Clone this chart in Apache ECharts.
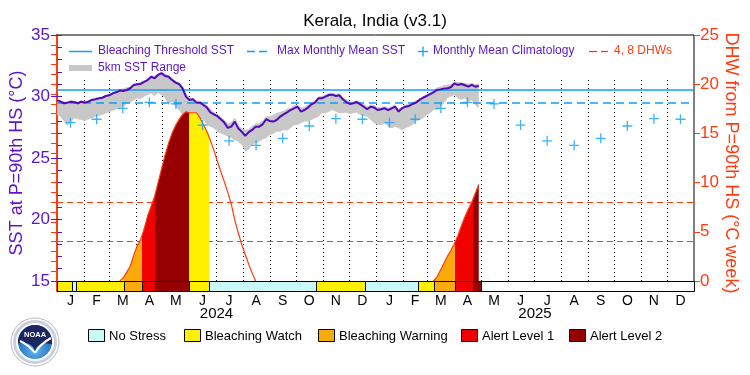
<!DOCTYPE html>
<html><head><meta charset="utf-8">
<script src="https://cdn.jsdelivr.net/npm/echarts@6/dist/echarts.min.js"></script>
<style>html,body{margin:0;padding:0;background:#fff}#c{width:750px;height:375px}</style>
</head><body><div id="c"></div>
<script>
// ---------------- data ----------------
const chartTitle = 'Kerala, India (v3.1)';
const monthLetters = ['J','F','M','A','M','J','J','A','S','O','N','D'];
const years = [2024, 2025];
const yearLabels = ['2024', '2025'];

// daily SST sampled every 4 days from 2024-01-01 (day 0)
const sstStepDays = 4;
const sst = [29.70,29.58,29.45,29.50,29.58,29.53,29.45,29.58,29.50,29.58,
29.72,29.77,29.85,29.90,30.04,30.10,30.26,30.34,30.48,30.45,
30.53,30.67,30.94,31.00,31.02,31.18,31.34,31.61,31.48,31.75,
31.89,31.67,31.61,31.34,31.13,31.02,30.67,29.99,29.72,29.77,
29.50,29.50,29.31,29.10,28.70,28.55,28.40,28.15,27.88,27.45,
27.55,27.96,27.41,27.14,26.80,27.10,27.28,27.55,27.55,27.74,
28.15,28.01,27.96,28.09,28.36,28.55,28.71,28.90,29.04,29.17,
28.77,28.90,29.10,29.36,29.50,29.85,29.85,29.99,30.12,30.15,
30.04,30.10,29.77,29.55,29.39,29.45,29.55,29.36,29.17,28.96,
29.17,29.10,28.90,28.96,29.04,28.90,29.04,29.17,28.77,29.04,
29.17,29.23,29.39,29.50,29.72,29.90,30.04,30.20,30.34,30.53,
30.58,30.64,30.67,30.75,31.07,30.94,31.02,30.91,30.80,30.94,
30.80,30.86];
const sstRangeLow = [28.50,28.36,27.96,27.60,27.96,28.23,28.15,28.09,28.00,28.15,
28.23,28.36,28.42,28.50,28.63,28.70,28.85,28.96,29.04,29.17,
29.39,29.50,29.72,29.85,29.77,29.99,30.12,30.26,30.04,30.26,
30.12,29.85,29.31,29.58,29.17,28.90,28.50,28.23,28.09,28.09,
27.96,28.23,28.09,27.68,27.55,27.41,27.14,27.01,26.87,26.74,
26.60,26.46,26.33,26.06,25.50,25.70,26.06,26.19,26.33,26.52,
26.60,26.87,26.95,27.14,27.14,27.28,27.22,27.41,27.68,27.68,
27.82,27.96,27.96,28.09,28.23,28.36,28.63,28.63,28.77,28.90,
28.77,28.63,28.63,28.70,28.58,28.63,28.70,28.50,28.42,28.36,
28.09,27.82,27.68,27.68,27.82,27.55,27.41,27.55,27.41,27.28,
27.41,27.55,27.68,27.96,28.09,28.23,28.50,28.63,28.90,28.90,
29.17,29.45,29.85,29.99,30.12,29.85,29.72,29.85,29.58,29.72,
29.31,29.04];
const sstRangeHigh = [29.80,29.70,29.60,29.60,29.70,29.65,29.60,29.70,29.65,29.70,
29.80,29.90,29.95,30.00,30.15,30.20,30.35,30.45,30.60,30.65,
30.75,30.80,31.00,31.10,31.20,31.30,31.45,31.70,31.70,31.90,
32.00,31.85,31.75,31.50,31.30,31.15,30.90,30.30,29.90,29.90,
29.65,29.65,29.50,29.30,29.00,28.75,28.60,28.35,28.10,27.80,
27.90,28.30,27.75,27.40,27.30,27.35,27.60,27.80,27.85,28.05,
28.40,28.40,28.50,28.65,28.75,28.85,29.00,29.10,29.30,29.35,
29.10,29.15,29.35,29.55,29.70,30.00,30.05,30.15,30.30,30.30,
30.20,30.25,29.95,29.75,29.60,29.60,29.70,29.55,29.40,29.20,
29.35,29.30,29.10,29.15,29.20,29.10,29.20,29.35,29.00,29.20,
29.35,29.40,29.55,29.70,29.85,30.00,30.15,30.30,30.50,30.75,
30.80,30.90,30.95,31.00,31.20,31.15,31.15,31.10,31.05,31.10,
31.00,31.05];

// monthly mean climatology (Jan..Dec), same each year
const climatology = [27.87,28.15,29.04,29.53,29.40,27.68,26.40,26.03,26.60,27.60,28.20,28.15];
const maxMonthlyMean = 29.53;
const bleachingThreshold = 30.53;

// degree heating weeks, every 4 days
const dhwStepDays = 4;
const dhw2024StartDay = 72;
const dhw2024 = [0,0.3,0.9,1.5,2.6,3.6,4.2,5.3,6.6,7.6,8.6,10.0,11.4,12.8,14.0,15.0,15.8,16.4,16.9,17.2,
17.1,17.1,17.1,16.6,15.9,15.2,14.3,13.3,12.2,11.1,10.1,9.0,7.8,6.2,4.9,3.7,2.7,1.7,0.8,0];
const dhw2025StartDay = 432;
const dhw2025 = [0,0.4,1.1,1.8,2.5,3.1,3.8,4.6,5.6,6.5,7.3,8.0,8.9,9.8];
const dhwLevels = [4, 8];

// stress status periods (day offsets from 2024-01-01); level 0..4
const statusStart = [0,17,22,77,97,112,152,174,297,353,414,433,457,477];
const statusEnd   = [17,22,77,97,112,152,174,297,353,414,433,457,477,486];
const statusLevel = [1,0,1,2,3,4,1,0,1,0,1,2,3,4];
const statusNames = ['No Stress','Bleaching Watch','Bleaching Warning','Alert Level 1','Alert Level 2'];

// ---------------- style ----------------
const FONT = 'Liberation Sans';
const PURPLE = '#5a14cc';
const SSTLINE = '#5208bb';
const BLUE = '#0aa0ff';
const GRAY = '#c8c8c8';
const DHWC = '#ff3c10';
const statusColors = ['#c8fafa','#fff000','#faaa0a','#f00000','#960000'];

// ---------------- calendar helpers ----------------
const DAY0 = Date.UTC(2024,0,1);
const dayOf = (y,m,d) => (Date.UTC(y,m,d) - DAY0) / 864e5;
const totalDays = dayOf(years[years.length-1] + 1, 0, 1);
const monthStarts = [];
years.forEach(y => { for (let m = 0; m < 12; m++) monthStarts.push(dayOf(y, m, 1)); });
const monthMids = monthStarts.map((s, i) => (s + (i + 1 < monthStarts.length ? monthStarts[i+1] : totalDays)) / 2);
const monthBoundaries = monthStarts.slice(1);
const yearMids = years.map(y => (dayOf(y,0,1) + dayOf(y+1,0,1)) / 2);

// axis geometry: status bar sits below 15 degC / 0 DHW
const leftMax = 35, leftBase = 15, rightMax = 25, rightBase = 0;
const plotTop = 35, plotBase = 281, plotBottom = 291;
const leftMin = leftBase - (leftMax - leftBase) * (plotBottom - plotBase) / (plotBase - plotTop);
const rightMin = rightBase - (rightMax - rightBase) * (plotBottom - plotBase) / (plotBase - plotTop);
const range = (a, b, s) => { const r = []; for (let v = a; v <= b + 1e-9; v += s) r.push(v); return r; };

// ---------------- series data ----------------
const sstData = sst.map((v, i) => [i * sstStepDays, v]);
const climData = monthMids.map((d, i) => [d, climatology[i % 12]]);
const dhwA = dhw2024.map((v, i) => [dhw2024StartDay + i * dhwStepDays, v]);
const dhwB = dhw2025.map((v, i) => [dhw2025StartDay + i * dhwStepDays, v]);
const statusData = [[0, totalDays, -1]].concat(statusStart.map((s, i) => [s, statusEnd[i], statusLevel[i]]));
const pieces = [];
statusLevel.forEach((lv, i) => { if (lv > 0) pieces.push({ gte: statusStart[i], lt: statusEnd[i], color: statusColors[lv] }); });

const plusPath = 'path://M4.35,0H5.65V4.35H10V5.65H5.65V10H4.35V5.65H0V4.35H4.35Z';

const chart = echarts.init(document.getElementById('c'));
const txt = (x, y, text, color, size) => ({ type: 'text', x, y, z: 100,
  style: { text, fill: color, fontSize: size, fontFamily: FONT, verticalAlign: 'middle', align: 'left' } });
const seg = (x1, y1, x2, y2, color, w) => ({ type: 'line', z: 100, shape: { x1, y1, x2, y2 }, style: { stroke: color, lineWidth: w } });

const graphics = [
  seg(69, 51.5, 92, 51.5, BLUE, 1.5), txt(98, 51, 'Bleaching Threshold SST', PURPLE, 12),
  seg(247, 51.5, 255, 51.5, BLUE, 1.5), seg(259, 51.5, 267, 51.5, BLUE, 1.5),
  txt(277, 51, 'Max Monthly Mean SST', PURPLE, 12),
  seg(418, 51.5, 428, 51.5, BLUE, 1.3), seg(423, 46.5, 423, 56.5, BLUE, 1.3),
  txt(433, 51, 'Monthly Mean Climatology', PURPLE, 12),
  seg(589, 51.5, 597, 51.5, DHWC, 1.3), seg(601, 51.5, 608, 51.5, DHWC, 1.3),
  txt(614, 51, '4, 8 DHWs', DHWC, 12),
  seg(69, 68, 92, 68, GRAY, 6), txt(98, 68, '5km SST Range', PURPLE, 12)
];
const boxX = [88, 184, 318, 461, 569];
statusNames.forEach((n, i) => {
  graphics.push({ type: 'rect', z: 100, shape: { x: boxX[i] + 0.5, y: 329.5, width: 16, height: 12 },
    style: { fill: statusColors[i], stroke: '#000', lineWidth: 1 } });
  graphics.push(txt(boxX[i] + 21, 336, n, '#000', 13));
});
// NOAA logo (polygons only)
const arcPts = [];
for (let a = -8; a <= 188; a += 6) { const r = a * Math.PI / 180; arcPts.push([17 * Math.cos(r), -17 * Math.sin(r)]); }
const shieldPts = arcPts.reverse().concat([[9, 1], [5, 2.5], [2, 5], [0, 9], [-2, 5], [-5, 2.5], [-9, 1]]);
graphics.push({ type: 'group', x: 35, y: 342, z: 100, children: [
  { type: 'circle', shape: { r: 24 }, style: { fill: '#fff', stroke: '#a8a8a8', lineWidth: 0.8 } },
  { type: 'circle', shape: { r: 20.5 }, style: { fill: 'none', stroke: '#c9cfe0', lineWidth: 3 } },
  { type: 'circle', shape: { r: 17 }, style: { fill: new echarts.graphic.RadialGradient(0.5, 0.75, 0.8,
      [{ offset: 0, color: '#5cb6f2' }, { offset: 1, color: '#0a4aa8' }]) } },
  { type: 'polygon', shape: { points: shieldPts }, style: { fill: '#1c2660' } },
  { type: 'bezierCurve', shape: { x1: -15, y1: -1, cpx1: -6, cpy1: 3, x2: 0, y2: 11 }, style: { fill: 'none', stroke: '#fff', lineWidth: 2 } },
  { type: 'bezierCurve', shape: { x1: 0, y1: 11, cpx1: 5, cpy1: 2, x2: 16, y2: -4 }, style: { fill: 'none', stroke: '#fff', lineWidth: 2 } },
  { type: 'text', x: 0, y: -7, style: { text: 'NOAA', fill: '#fff', fontSize: 7.5, fontWeight: 'bold', fontFamily: FONT, align: 'center', verticalAlign: 'middle' } }
] });

const monthLabelFor = v => { const i = monthMids.findIndex(m => Math.abs(m - v) < 0.01); return i < 0 ? '' : monthLetters[i % 12]; };
const yearLabelFor = v => { const i = yearMids.findIndex(m => Math.abs(m - v) < 0.01); return i < 0 ? '' : yearLabels[i]; };

const option = {
  animation: false,
  backgroundColor: '#fff',
  textStyle: { fontFamily: FONT },
  title: { text: chartTitle, left: 'center', top: 13, padding: 0,
    textStyle: { fontSize: 17, fontWeight: 'normal', color: '#000', fontFamily: FONT } },
  grid: { left: 57, right: 56, top: plotTop, bottom: 375 - plotBottom, containLabel: false, outerBoundsMode: 'none',
    show: true, borderColor: '#000', borderWidth: 1, backgroundColor: 'transparent' },
  xAxis: [
    { type: 'value', min: 0, max: totalDays, splitLine: { show: false },
      axisLine: { lineStyle: { color: '#000', width: 1 } }, axisTick: { show: false },
      axisLabel: { customValues: monthMids, formatter: monthLabelFor, color: '#000', fontSize: 14, margin: 3 } },
    { type: 'value', min: 0, max: totalDays, position: 'bottom', splitLine: { show: false },
      axisLine: { show: false }, axisTick: { show: false },
      axisLabel: { customValues: yearMids, formatter: yearLabelFor, color: '#000', fontSize: 15, margin: 15 } }
  ],
  yAxis: [
    { type: 'value', position: 'left', min: leftMin, max: leftMax, splitLine: { show: false },
      axisLine: { show: true, lineStyle: { color: PURPLE, width: 2 } },
      axisTick: { show: true, inside: true, length: 5, customValues: range(leftBase, leftMax, 1), lineStyle: { color: PURPLE } },
      axisLabel: { customValues: range(leftBase, leftMax, 5), color: PURPLE, fontSize: 17, margin: 7 },
      name: 'SST at P=90th HS (°C)', nameLocation: 'middle', nameGap: 31, nameRotate: 90, nameMoveOverlap: false,
      nameTextStyle: { color: PURPLE, fontSize: 18 } },
    { type: 'value', position: 'right', min: rightMin, max: rightMax, splitLine: { show: false },
      axisLine: { show: true, lineStyle: { color: DHWC, width: 2 } },
      axisTick: { show: true, inside: true, length: 6, customValues: range(rightBase, rightMax, 1), lineStyle: { color: DHWC } },
      axisLabel: { customValues: range(rightBase, rightMax, 5), color: DHWC, fontSize: 17, margin: 6 },
      name: 'DHW from P=90th HS (°C week)', nameLocation: 'middle', nameGap: 28, nameRotate: -90, nameMoveOverlap: false,
      nameTextStyle: { color: DHWC, fontSize: 18 } },
    { type: 'value', position: 'left', min: leftMin, max: leftMax, splitLine: { show: false },
      axisLine: { show: false }, axisLabel: { show: false },
      axisTick: { show: true, inside: false, length: 6, customValues: range(leftBase, leftMax, 5), lineStyle: { color: PURPLE } } },
    { type: 'value', position: 'right', min: rightMin, max: rightMax, splitLine: { show: false },
      axisLine: { show: false }, axisLabel: { show: false },
      axisTick: { show: true, inside: false, length: 6, customValues: range(rightBase, rightMax, 5), lineStyle: { color: DHWC } } }
  ],
  visualMap: { type: 'piecewise', show: false, dimension: 0, seriesIndex: [2, 3], pieces,
    outOfRange: { color: 'rgba(255,255,255,0)' } },
  series: [
    { // 0 month dotted lines
      type: 'custom', z: 1, silent: true, data: monthBoundaries, encode: { x: 0 },
      renderItem: (params, api) => {
        const d = api.value(0);
        const p1 = api.coord([d, leftBase]), p2 = api.coord([d, 31.5]);
        const x = Math.round(p1[0]) + 0.5;
        return { type: 'line', shape: { x1: x, y1: p1[1], x2: x, y2: p2[1] }, style: { stroke: '#000', lineWidth: 1, lineDash: [1, 3] } };
      } },
    { // 1 SST range band
      type: 'custom', name: '5km SST Range', z: 2, silent: true, data: [0], encode: { x: 0 },
      renderItem: (params, api) => {
        const pts = [];
        sstRangeHigh.forEach((v, i) => pts.push(api.coord([i * sstStepDays, v])));
        for (let i = sstRangeLow.length - 1; i >= 0; i--) pts.push(api.coord([i * sstStepDays, sstRangeLow[i]]));
        return { type: 'polygon', shape: { points: pts }, style: { fill: GRAY } };
      } },
    { // 2 dhw 2024
      type: 'line', yAxisIndex: 1, data: dhwA, symbol: 'none', z: 3, silent: true,
      lineStyle: { color: DHWC, width: 1.2 }, areaStyle: { opacity: 1 },
      markLine: { silent: true, symbol: 'none', z: 1, label: { show: false },
        lineStyle: { color: DHWC, type: [6, 4], width: 1 }, data: dhwLevels.map(v => ({ yAxis: v })) } },
    { // 3 dhw 2025
      type: 'line', yAxisIndex: 1, data: dhwB, symbol: 'none', z: 3, silent: true,
      lineStyle: { color: DHWC, width: 1.2 }, areaStyle: { opacity: 1 } },
    { // 4 climatology
      type: 'scatter', data: climData, symbol: plusPath, symbolSize: 10, z: 5, silent: true,
      itemStyle: { color: BLUE } },
    { // 5 SST
      type: 'line', data: sstData, symbol: 'none', z: 6, silent: true,
      lineStyle: { color: SSTLINE, width: 2 },
      markLine: { silent: true, symbol: 'none', z: 4, label: { show: false },
        data: [
          { yAxis: bleachingThreshold, lineStyle: { color: BLUE, type: 'solid', width: 1.5 } },
          { yAxis: maxMonthlyMean, lineStyle: { color: BLUE, type: [8, 5], width: 1.5 } }
        ] } },
    { // 6 status bar
      type: 'custom', z: 7, silent: true, data: statusData, encode: { x: [0, 1] },
      renderItem: (params, api) => {
        const s = api.value(0), e = api.value(1), lv = api.value(2);
        const p0 = api.coord([s, leftBase]), p1 = api.coord([e, leftBase]);
        const bottom = params.coordSys.y + params.coordSys.height;
        return { type: 'rect', shape: { x: Math.round(p0[0]) + 0.5, y: Math.round(p0[1]) + 0.5,
          width: Math.round(p1[0]) - Math.round(p0[0]), height: Math.round(bottom) - Math.round(p0[1]) },
          style: { fill: lv < 0 ? '#fff' : statusColors[lv], stroke: '#000', lineWidth: 1 } };
      } }
  ],
  graphic: graphics
};
chart.setOption(option);
</script></body></html>
